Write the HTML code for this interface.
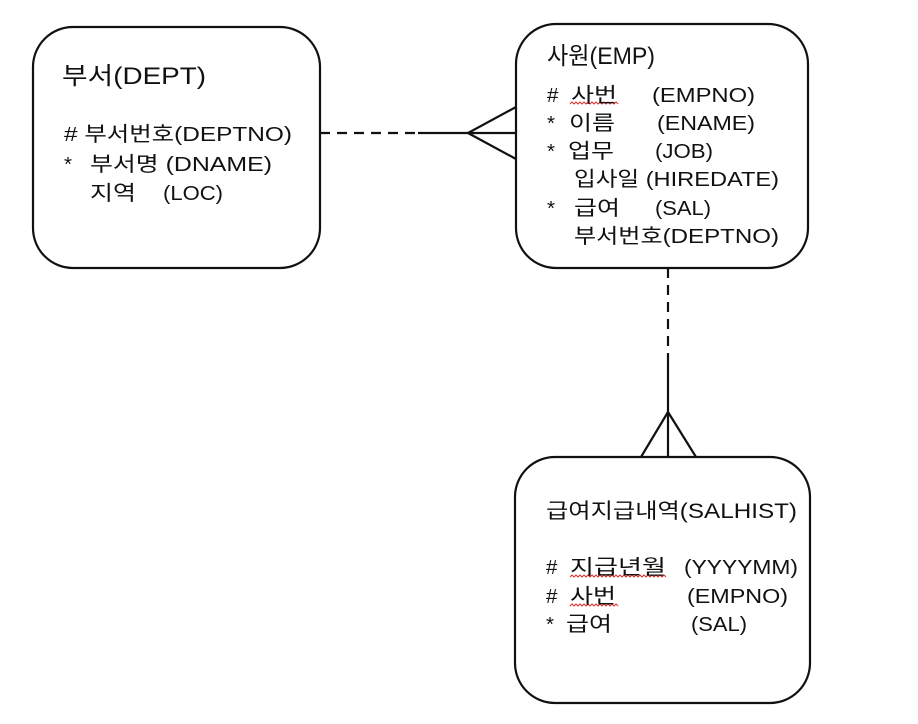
<!DOCTYPE html>
<html><head><meta charset="utf-8"><style>
html,body{margin:0;padding:0;background:#fff;}
svg{display:block;}
text{font-family:"Liberation Sans","Noto Sans CJK KR",sans-serif;fill:#111;}
.t{font-size:24px;}
.a{font-size:20.5px;}
.s{font-size:21px;}
</style></head><body>
<svg width="918" height="724" viewBox="0 0 918 724" xmlns="http://www.w3.org/2000/svg">
<g fill="none" stroke="#111" stroke-width="2.2">
<rect x="33" y="27" width="287" height="241" rx="40"/>
<rect x="516" y="24" width="292" height="244" rx="40"/>
<rect x="515" y="457" width="295" height="246" rx="40"/>
<line x1="320" y1="133" x2="418" y2="133" stroke-dasharray="10,7"/>
<line x1="418" y1="133" x2="516" y2="133"/>
<line x1="468" y1="133" x2="516" y2="107"/>
<line x1="468" y1="133" x2="516" y2="159"/>
<line x1="668" y1="268" x2="668" y2="362" stroke-dasharray="10,7"/>
<line x1="668" y1="362" x2="668" y2="457"/>
<line x1="668" y1="412" x2="641" y2="457"/>
<line x1="668" y1="412" x2="696" y2="457"/>
</g>
<g fill="none" stroke="#e03030" stroke-width="1">
<polyline points="570,104 572,102 574,104 576,102 578,104 580,102 582,104 584,102 586,104 588,102 590,104 592,102 594,104 596,102 598,104 600,102 602,104 604,102 606,104 608,102 610,104 612,102 614,104 616,102 618,104"/>
<polyline points="570,577 572,575 574,577 576,575 578,577 580,575 582,577 584,575 586,577 588,575 590,577 592,575 594,577 596,575 598,577 600,575 602,577 604,575 606,577 608,575 610,577 612,575 614,577 616,575 618,577 620,575 622,577 624,575 626,577 628,575 630,577 632,575 634,577 636,575 638,577 640,575 642,577 644,575 646,577 648,575 650,577 652,575 654,577 656,575 658,577 660,575 662,577 664,575 666,577"/>
<polyline points="570,606 572,604 574,606 576,604 578,606 580,604 582,606 584,604 586,606 588,604 590,606 592,604 594,606 596,604 598,606 600,604 602,606 604,604 606,606 608,604 610,606 612,604 614,606 616,604 618,606"/>
</g>
<text class="t" x="62" y="84" textLength="144" lengthAdjust="spacingAndGlyphs">부서(DEPT)</text>
<text class="a" x="64" y="141" textLength="228" lengthAdjust="spacingAndGlyphs"># 부서번호(DEPTNO)</text>
<text class="a" x="64" y="171">*</text>
<text class="a" x="90" y="171" textLength="182" lengthAdjust="spacingAndGlyphs">부서명 (DNAME)</text>
<text class="a" x="90" y="200" textLength="46" lengthAdjust="spacingAndGlyphs">지역</text>
<text class="a" x="163" y="200" textLength="60" lengthAdjust="spacingAndGlyphs">(LOC)</text>
<text class="t" x="547" y="64" textLength="108" lengthAdjust="spacingAndGlyphs">사원(EMP)</text>
<text class="a" x="547" y="102">#</text>
<text class="a" x="571" y="102" textLength="46" lengthAdjust="spacingAndGlyphs">사번</text>
<text class="a" x="652" y="102" textLength="103" lengthAdjust="spacingAndGlyphs">(EMPNO)</text>
<text class="a" x="547" y="130">*</text>
<text class="a" x="569" y="130" textLength="46" lengthAdjust="spacingAndGlyphs">이름</text>
<text class="a" x="657" y="130" textLength="98" lengthAdjust="spacingAndGlyphs">(ENAME)</text>
<text class="a" x="547" y="158">*</text>
<text class="a" x="568" y="158" textLength="46" lengthAdjust="spacingAndGlyphs">업무</text>
<text class="a" x="655" y="158" textLength="58" lengthAdjust="spacingAndGlyphs">(JOB)</text>
<text class="a" x="574" y="186" textLength="205" lengthAdjust="spacingAndGlyphs">입사일 (HIREDATE)</text>
<text class="a" x="547" y="215">*</text>
<text class="a" x="574" y="215" textLength="46" lengthAdjust="spacingAndGlyphs">급여</text>
<text class="a" x="655" y="215" textLength="56" lengthAdjust="spacingAndGlyphs">(SAL)</text>
<text class="a" x="574" y="243" textLength="205" lengthAdjust="spacingAndGlyphs">부서번호(DEPTNO)</text>
<text class="s" x="546" y="518" textLength="251" lengthAdjust="spacingAndGlyphs">급여지급내역(SALHIST)</text>
<text class="a" x="546" y="574">#</text>
<text class="a" x="570" y="574" textLength="96" lengthAdjust="spacingAndGlyphs">지급년월</text>
<text class="a" x="684" y="574" textLength="114" lengthAdjust="spacingAndGlyphs">(YYYYMM)</text>
<text class="a" x="546" y="603">#</text>
<text class="a" x="570" y="603" textLength="46" lengthAdjust="spacingAndGlyphs">사번</text>
<text class="a" x="687" y="603" textLength="101" lengthAdjust="spacingAndGlyphs">(EMPNO)</text>
<text class="a" x="546" y="631">*</text>
<text class="a" x="566" y="631" textLength="46" lengthAdjust="spacingAndGlyphs">급여</text>
<text class="a" x="691" y="631" textLength="56" lengthAdjust="spacingAndGlyphs">(SAL)</text>
</svg>
</body></html>
